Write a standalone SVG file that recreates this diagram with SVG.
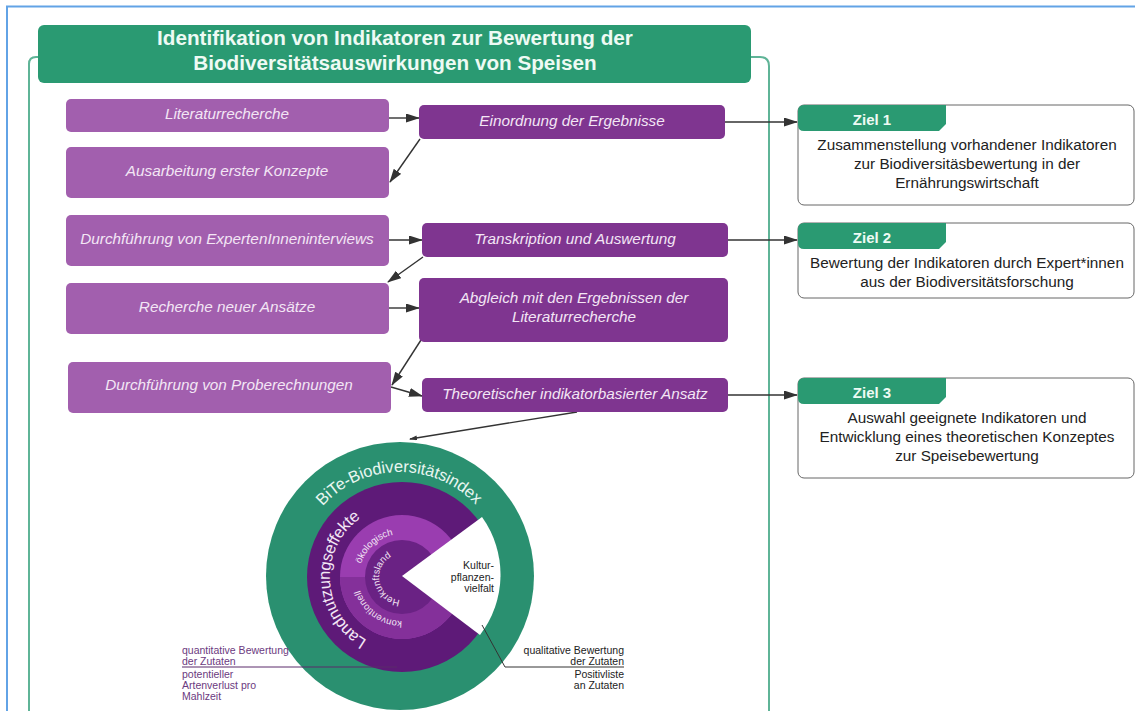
<svg xmlns="http://www.w3.org/2000/svg" width="1135" height="711" viewBox="0 0 1135 711">
<style>
text{font-family:"Liberation Sans",Arial,sans-serif}
.l{fill:#a25fae}
.d{fill:#7f3590}
.t{fill:#f3e6f5;font-size:15.300px;font-style:italic;text-anchor:middle}
.g{fill:#2a9a72}
.gt{fill:#eefaf4;font-size:15px;font-weight:bold;text-anchor:middle}
.c{fill:#fff;stroke:#666;stroke-width:1}
.b{fill:#222;font-size:15.300px;text-anchor:middle}
.cn{fill:none;stroke:#333;stroke-width:1.4;marker-end:url(#a)}
.s{font-size:10.500px}
</style>
<defs>
<marker id="a" markerWidth="14" markerHeight="10" refX="13" refY="4.5" orient="auto" markerUnits="userSpaceOnUse"><path d="M0 0L14 4.5L0 9Z" fill="#333"/></marker>
<marker id="a2" markerWidth="8" markerHeight="6" refX="7" refY="2.5" orient="auto" markerUnits="userSpaceOnUse"><path d="M0 0L8 2.5L0 5Z" fill="#333"/></marker>
<path id="p1" d="M322.700 506.400A104 104 0 0 1 490 524"/>
<path id="p2" d="M367.100 640A72 72 0 0 1 377.400 509.300"/>
<path id="p3" d="M361.100 563.700A43 43 0 0 1 423.500 539.800"/>
<path id="p4" d="M400 599.900A23 23 0 1 1 413.500 557"/>
<path id="p5" d="M402 621A44 44 0 0 1 360.700 562"/>
</defs>
<rect width="1135" height="711" fill="#fff"/>
<path d="M7 711V6.500H1135" fill="none" stroke="#62a3e6" stroke-width="2"/>
<g id="frame"><path d="M38 57H36Q29 57 29 64V711M740 57H760Q769 57 769 66V711" fill="none" stroke="#5fb497" stroke-width="2"/></g>
<g id="title"><rect x="38" y="25" width="713" height="58" rx="6" class="g"/>
<text x="395" y="45" class="gt" style="font-size:20.700px">Identifikation von Indikatoren zur Bewertung der</text>
<text x="395" y="70" class="gt" style="font-size:20.700px">Biodiversitätsauswirkungen von Speisen</text></g>
<g id="connectors">
<path class="cn" d="M389 118H419"/>
<path class="cn" d="M420 139L390 182"/>
<path class="cn" d="M725 122H797"/>
<path class="cn" d="M389 240H422"/>
<path class="cn" d="M423 257L388 282"/>
<path class="cn" d="M728 240H797"/>
<path class="cn" d="M389 308H419"/>
<path class="cn" d="M421 340L392 385"/>
<path class="cn" d="M391 387L422 396"/>
<path class="cn" d="M728 395H797"/>
<path class="cn" style="marker-end:url(#a2)" d="M577 412L410 439"/>
</g>
<g id="n1"><rect class="l" x="66" y="99" width="323" height="33" rx="5"/><text class="t" x="227" y="119">Literaturrecherche</text></g>
<g id="n2"><rect class="l" x="66" y="147" width="323" height="51" rx="5"/><text class="t" x="227" y="176">Ausarbeitung erster Konzepte</text></g>
<g id="n3"><rect class="l" x="66" y="215" width="323" height="51" rx="5"/><text class="t" x="227" y="244">Durchführung von ExpertenInneninterviews</text></g>
<g id="n4"><rect class="l" x="66" y="283" width="323" height="51" rx="5"/><text class="t" x="227" y="312">Recherche neuer Ansätze</text></g>
<g id="n5"><rect class="l" x="68" y="362" width="323" height="51" rx="5"/><text class="t" x="229" y="390">Durchführung von Proberechnungen</text></g>
<g id="n6"><rect class="d" x="419" y="105" width="306" height="34" rx="5"/><text class="t" x="572" y="126">Einordnung der Ergebnisse</text></g>
<g id="n7"><rect class="d" x="422" y="223" width="306" height="34" rx="5"/><text class="t" x="575" y="244">Transkription und Auswertung</text></g>
<g id="n8"><rect class="d" x="419" y="278" width="309" height="64" rx="5"/><text class="t" x="574" y="303">Abgleich mit den Ergebnissen der</text><text class="t" x="574" y="322">Literaturrecherche</text></g>
<g id="n9"><rect class="d" x="422" y="378" width="306" height="34" rx="5"/><text class="t" x="575" y="399">Theoretischer indikatorbasierter Ansatz</text></g>
<g id="z1"><rect class="c" x="798" y="105" width="336" height="100" rx="6"/><path class="g" d="M804 105H946V124L939 131H804Q798 131 798 125V111Q798 105 804 105Z"/><text class="gt" x="872" y="125">Ziel 1</text>
<text class="b" x="967" y="150">Zusammenstellung vorhandener Indikatoren</text><text class="b" x="967" y="169">zur Biodiversitäsbewertung in der</text><text class="b" x="967" y="188">Ernährungswirtschaft</text></g>
<g id="z2"><rect class="c" x="798" y="223" width="336" height="75" rx="6"/><path class="g" d="M804 223H946V242L939 249H804Q798 249 798 243V229Q798 223 804 223Z"/><text class="gt" x="872" y="243">Ziel 2</text>
<text class="b" x="967" y="268">Bewertung der Indikatoren durch Expert*innen</text><text class="b" x="967" y="287">aus der Biodiversitätsforschung</text></g>
<g id="z3"><rect class="c" x="798" y="378" width="336" height="100" rx="6"/><path class="g" d="M804 378H946V397L939 404H804Q798 404 798 398V384Q798 378 804 378Z"/><text class="gt" x="872" y="398">Ziel 3</text>
<text class="b" x="967" y="423">Auswahl geeignete Indikatoren und</text><text class="b" x="967" y="442">Entwicklung eines theoretischen Konzeptes</text><text class="b" x="967" y="461">zur Speisebewertung</text></g>
<g id="index">
<circle cx="400" cy="576" r="134" fill="#2a9070"/>
<circle cx="402" cy="577" r="95" fill="#5e1a78"/>
<circle cx="402" cy="577" r="62" fill="#9a3db0"/>
<path d="M340 577A62 62 0 0 0 464 577Z" fill="#84309a"/>
<circle cx="402" cy="577" r="37" fill="#6a2284"/>
<path d="M402 576L482 517A99 99 0 0 1 480 635Z" fill="#fff"/>
<text font-size="16.500" fill="#e8f6f0"><textPath href="#p1" textLength="172">BiTe-Biodiversitätsindex</textPath></text>
<text font-size="16.500" fill="#f3e6f5"><textPath href="#p2" textLength="146">Landnutzungseffekte</textPath></text>
<text font-size="9.500" fill="#f3e6f5"><textPath href="#p3">ökologisch</textPath></text>
<text font-size="9.500" fill="#f3e6f5"><textPath href="#p4">Herkunftsland</textPath></text>
<text font-size="9.500" fill="#f3e6f5"><textPath href="#p5">konventionell</textPath></text>
<text class="s" fill="#222" text-anchor="end" x="494" y="569">Kultur-</text>
<text class="s" fill="#222" text-anchor="end" x="494" y="581">pflanzen-</text>
<text class="s" fill="#222" text-anchor="end" x="494" y="592">vielfalt</text>
</g>
<g id="labels">
<path d="M182 667H397" fill="none" stroke="#5a2a6a" stroke-width="1"/>
<path d="M482 625L505 667H624" fill="none" stroke="#333" stroke-width="1"/>
<text class="s" fill="#6b3a80" x="182" y="654">quantitative Bewertung</text>
<text class="s" fill="#6b3a80" x="182" y="665">der Zutaten</text>
<text class="s" fill="#6b3a80" x="182" y="678">potentieller</text>
<text class="s" fill="#6b3a80" x="182" y="689">Artenverlust pro</text>
<text class="s" fill="#6b3a80" x="182" y="700">Mahlzeit</text>
<text class="s" fill="#222" text-anchor="end" x="624" y="654">qualitative Bewertung</text>
<text class="s" fill="#222" text-anchor="end" x="624" y="665">der Zutaten</text>
<text class="s" fill="#222" text-anchor="end" x="624" y="678">Positivliste</text>
<text class="s" fill="#222" text-anchor="end" x="624" y="689">an Zutaten</text>
</g>
</svg>
